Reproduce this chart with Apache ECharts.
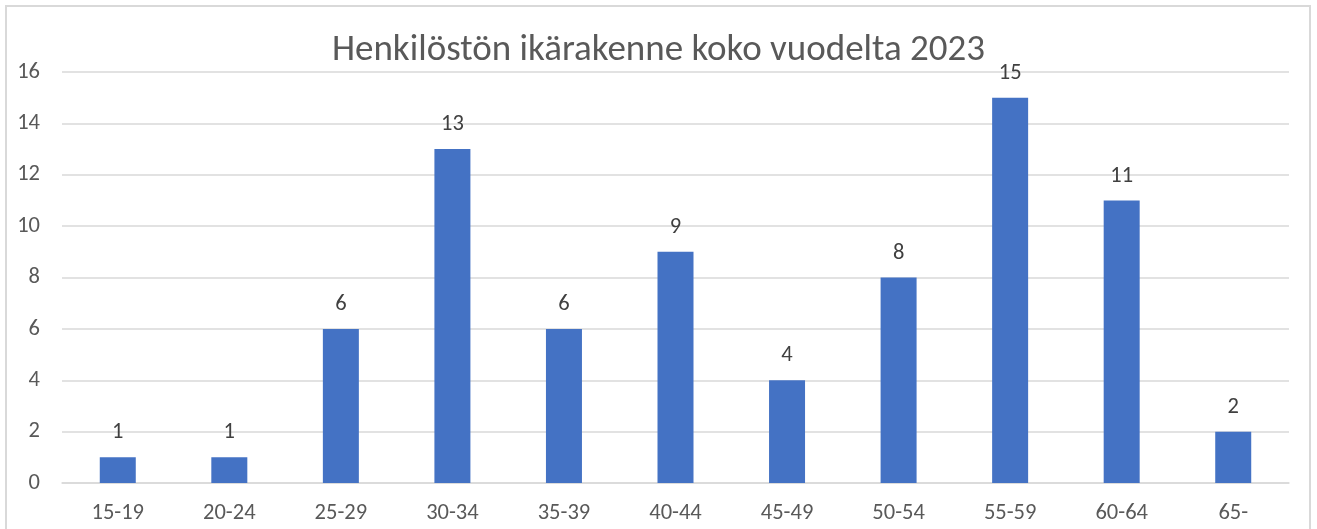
<!DOCTYPE html>
<html>
<head>
<meta charset="utf-8">
<script src="https://cdn.jsdelivr.net/npm/echarts@6/dist/echarts.min.js"></script>
<style>
  html, body { margin: 0; padding: 0; background: #fff; overflow: hidden; }
  #frame { position: absolute; left: 5px; top: 5px; width: 1306px; height: 540px; border: 2px solid #d9d9d9; box-sizing: border-box; }
  #main { position: absolute; left: 0; top: 0; width: 1317px; height: 529px; }
</style>
</head>
<body>
<div id="frame"></div>
<div id="main"></div>
<script>
var chartTitle = 'Henkilöstön ikärakenne koko vuodelta 2023';
var ageGroups = ['15-19', '20-24', '25-29', '30-34', '35-39', '40-44', '45-49', '50-54', '55-59', '60-64', '65-'];
var headcount = [1, 1, 6, 13, 6, 9, 4, 8, 15, 11, 2];
var yTicks = [0, 2, 4, 6, 8, 10, 12, 14, 16];

var myChart = echarts.init(document.getElementById('main'));

var fontFam = 'Carlito, "Open Sans", "Noto Sans", sans-serif';

var option = {
    animation: false,
    title: {
        text: chartTitle,
        left: 'center',
        top: 27,
        textStyle: {
            fontFamily: fontFam,
            fontSize: 37,
            fontWeight: 'normal',
            color: '#595959'
        }
    },
    grid: {
        left: 62,
        right: 28,
        top: 72,
        bottom: 46
    },
    xAxis: {
        type: 'category',
        data: ageGroups,
        axisLine: { lineStyle: { color: '#d9d9d9', width: 1.5 } },
        axisTick: { show: false },
        axisLabel: {
            margin: 19,
            fontFamily: fontFam,
            fontSize: 22.5,
            color: '#595959'
        }
    },
    yAxis: {
        type: 'value',
        min: yTicks[0],
        max: yTicks[yTicks.length - 1],
        interval: 2,
        axisLine: { show: false },
        axisTick: { show: false },
        splitLine: { lineStyle: { color: '#d9d9d9', width: 1.5 } },
        axisLabel: {
            margin: 22,
            fontFamily: fontFam,
            fontSize: 22.5,
            color: '#595959'
        }
    },
    series: [{
        type: 'bar',
        data: headcount,
        barWidth: 36,
        itemStyle: { color: '#4472C4' },
        label: {
            show: true,
            position: 'top',
            distance: 13,
            fontFamily: fontFam,
            fontSize: 22.5,
            color: '#404040'
        }
    }]
};

myChart.setOption(option, true);
</script>
</body>
</html>
